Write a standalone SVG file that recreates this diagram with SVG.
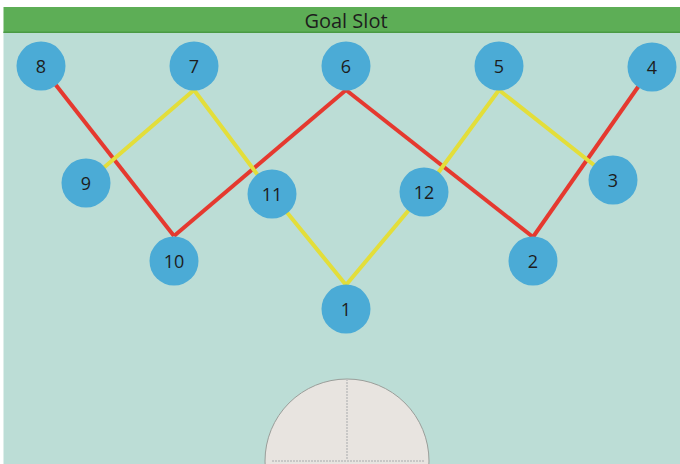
<svg xmlns="http://www.w3.org/2000/svg" width="680" height="464" viewBox="0 0 680 464">
<defs>
<style>
.node circle{fill:#4BABD6;}
.node text{font-family:"Open Sans","Noto Sans",sans-serif;font-size:18px;fill:#1d1d1d;text-anchor:middle;}
.red{stroke:#E5392F;stroke-width:4;fill:none;}
.yel{stroke:#E3DE3A;stroke-width:4;fill:none;}
</style>
</defs>
<rect x="0" y="0" width="680" height="464" fill="#ffffff"/>
<rect x="3.5" y="32" width="676.5" height="432" fill="#BCDDD6"/>
<rect x="3.5" y="7" width="676.5" height="26" fill="#5DAE56"/>
<rect x="3.5" y="31.5" width="676.5" height="1.5" fill="#4A9A44"/>
<text x="346" y="28" font-family="'Open Sans','Noto Sans',sans-serif" font-size="20" fill="#1d1d1d" text-anchor="middle">Goal Slot</text>
<g id="goal-area">
<circle cx="347" cy="461" r="82" fill="#E8E4E0" stroke="#9A9E9A" stroke-width="1"/>
<line x1="347" y1="379" x2="347" y2="460" stroke="#BDBDBD" stroke-width="1.5" stroke-dasharray="2 1"/>
<line x1="272" y1="461" x2="424" y2="461" stroke="#BDBDBD" stroke-width="1.5" stroke-dasharray="2 1"/>
</g>
<g id="connectors">
<line class="red" x1="41" y1="66" x2="174" y2="236"/>
<line class="red" x1="174" y1="236" x2="346" y2="90"/>
<line class="red" x1="346" y1="90" x2="533" y2="237"/>
<line class="red" x1="533" y1="237" x2="652" y2="67"/>
<line class="yel" x1="86" y1="183" x2="194" y2="90"/>
<line class="yel" x1="194" y1="90" x2="272" y2="194"/>
<line class="yel" x1="272" y1="194" x2="346" y2="285"/>
<line class="yel" x1="346" y1="285" x2="424" y2="192"/>
<line class="yel" x1="424" y1="192" x2="499" y2="90"/>
<line class="yel" x1="499" y1="90" x2="613" y2="180"/>
</g>
<g id="n8" class="node"><circle cx="41" cy="66" r="24.5"/><text x="41" y="72.5">8</text></g>
<g id="n7" class="node"><circle cx="194" cy="66" r="24.5"/><text x="194" y="72.5">7</text></g>
<g id="n6" class="node"><circle cx="346" cy="66" r="24.5"/><text x="346" y="72.5">6</text></g>
<g id="n5" class="node"><circle cx="499" cy="66" r="24.5"/><text x="499" y="72.5">5</text></g>
<g id="n4" class="node"><circle cx="652" cy="67" r="24.5"/><text x="652" y="73.5">4</text></g>
<g id="n9" class="node"><circle cx="86" cy="183" r="24.5"/><text x="86" y="189.5">9</text></g>
<g id="n11" class="node"><circle cx="272" cy="194" r="24.5"/><text x="272" y="200.5">11</text></g>
<g id="n12" class="node"><circle cx="424" cy="192" r="24.5"/><text x="424" y="198.5">12</text></g>
<g id="n3" class="node"><circle cx="613" cy="180" r="24.5"/><text x="613" y="186.5">3</text></g>
<g id="n10" class="node"><circle cx="174" cy="261" r="24.5"/><text x="174" y="267.5">10</text></g>
<g id="n2" class="node"><circle cx="533" cy="261" r="24.5"/><text x="533" y="267.5">2</text></g>
<g id="n1" class="node"><circle cx="346" cy="309" r="24.5"/><text x="346" y="315.5">1</text></g>
</svg>
